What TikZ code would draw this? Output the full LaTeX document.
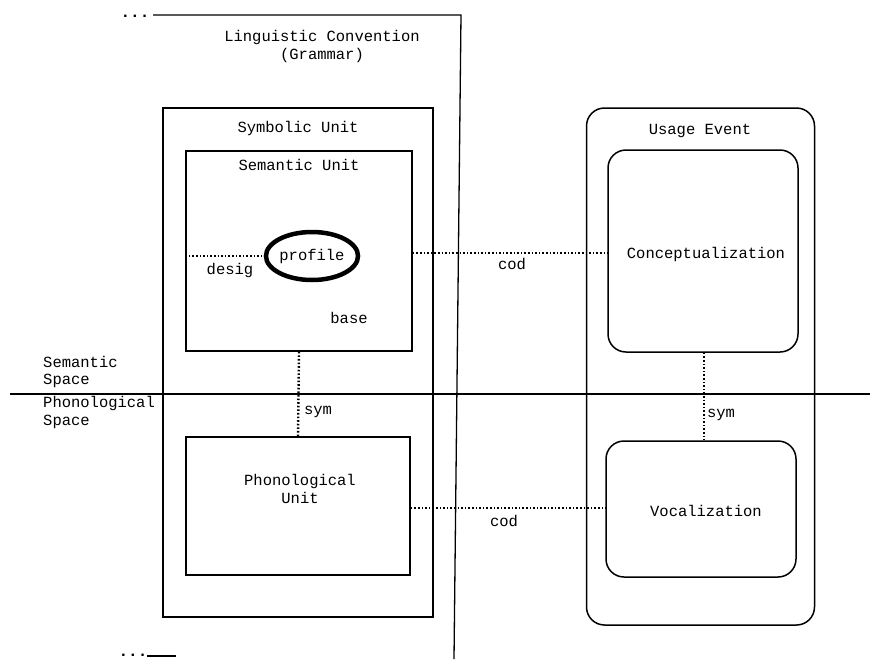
\documentclass[tikz,border=0pt]{standalone}
\usepackage{fontspec}
\setmainfont{Liberation Mono}
\usetikzlibrary{shapes.geometric}
\begin{document}
\begin{tikzpicture}[x=1pt,y=-1pt,
  lbl/.style={font=\fontsize{15.5}{18}\selectfont, inner sep=0pt, align=center},
  box/.style={draw, line width=1.5pt, inner sep=0pt},
  rbox/.style={draw, line width=1.5pt, inner sep=0pt, rounded corners=18pt},
  dotline/.style={line width=2.4pt, dash pattern=on 1.6pt off 2pt},
  plain/.style={line width=1.3pt}]
\useasboundingbox (0,0) rectangle (878,659);
% Linguistic convention frame
\coordinate (lcA) at (153,15);
\coordinate (lcB) at (461,15);
\coordinate (lcC) at (454,659);
\draw[plain] (lcA) -- (lcB) -- (lcC);
\node[lbl, font=\fontsize{16}{16}\selectfont\bfseries, anchor=base] (dotsTop) at (135,17) {...};
\node[lbl, font=\fontsize{16}{16}\selectfont\bfseries, anchor=base] (dotsBot) at (133,656) {...};
\coordinate (bl1) at (147,656);
\coordinate (bl2) at (176,656);
\draw[plain] (bl1) -- (bl2);
\node[lbl] (lc) at (322,37) {Linguistic Convention};
\node[lbl] (gr) at (322,55) {(Grammar)};
% divider
\coordinate (hl1) at (10,394);
\coordinate (hl2) at (870,394);
\draw[plain] (hl1) -- (hl2);
\node[lbl, align=left, anchor=west] (sem1) at (43,362) {Semantic};
\node[lbl, align=left, anchor=west] (sem2) at (43,381) {Space};
\node[lbl, align=left, anchor=west] (ph1) at (43,403) {Phonological};
\node[lbl, align=left, anchor=west] (ph2) at (43,422) {Space};
% symbolic unit
\node[box, minimum width=270pt, minimum height=509pt] (symb) at (298,362.5) {};
\node[lbl] (symbL) at (298,128) {Symbolic Unit};
\node[box, minimum width=226pt, minimum height=200pt] (semu) at (299,251) {};
\node[lbl] (semuL) at (299,165) {Semantic Unit};
\node[draw, ellipse, line width=4.5pt, minimum width=86pt, minimum height=48pt, inner sep=0pt, lbl] (prof) at (312,256) {profile};
\node[lbl] (desig) at (230,270) {desig};
\node[lbl] (base) at (349,318) {base};
\draw[dotline] (semu.west |- prof.west) -- (prof.west);
\node[box, minimum width=224pt, minimum height=138pt] (phon) at (298,506) {};
\node[lbl] (phonL) at (300,489) {Phonological\\Unit};
\draw[dotline] (semu.south) -- (phon.north);
\node[lbl] (symA) at (318,412) {sym};
% usage event
\node[rbox, minimum width=228pt, minimum height=517pt] (use) at (700.5,366.5) {};
\node[lbl] (useL) at (700,131) {Usage Event};
\node[rbox, minimum width=190pt, minimum height=202pt] (conc) at (703,251) {};
\node[lbl] (concL) at (706,254) {Conceptualization};
\node[rbox, minimum width=190pt, minimum height=136pt] (voc) at (701,509) {};
\node[lbl] (vocL) at (706,511) {Vocalization};
\draw[dotline] (conc.south -| 704,0) -- (voc.north -| 704,0);
\node[lbl] (symB) at (721,415) {sym};
% cod links
\draw[dotline] (semu.east |- 0,253) -- (conc.west |- 0,253);
\node[lbl] (cod1) at (512,264) {cod};
\draw[dotline] (phon.east |- 0,508) -- (voc.west |- 0,508);
\node[lbl] (cod2) at (504,521) {cod};
\end{tikzpicture}
\end{document}
